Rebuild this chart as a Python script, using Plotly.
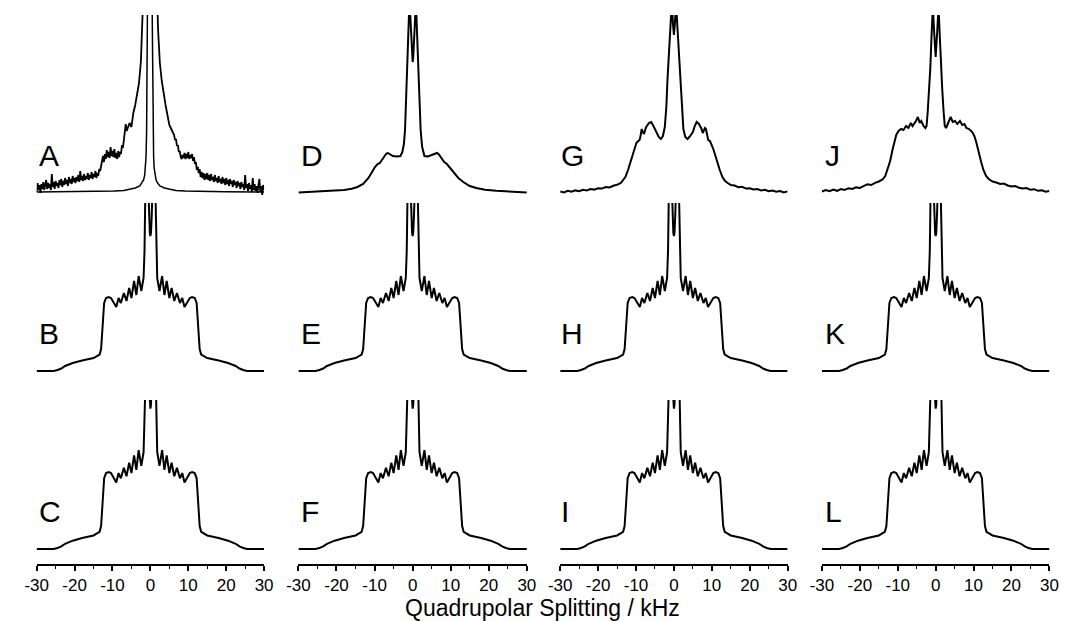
import plotly.graph_objects as go

# ---------------- data (intensities in arbitrary units, baseline = 0) ----------------
panel_labels = [["A", "D", "G", "J"], ["B", "E", "H", "K"], ["C", "F", "I", "L"]]
tick_vals = [-30, -20, -10, 0, 10, 20, 30]
tick_text = ["-30", "-20", "-10", "0", "10", "20", "30"]
minor_tick_vals = [-25, -15, -5, 5, 15, 25]
x_title = "Quadrupolar Splitting / kHz"

# simulated spectrum (panels B, C, E, F, H, I, K, L)
sim_x = [-30, -27, -25.5, -24.5, -23.5, -22.5, -20.5, -18, -15, -13.4, -13.0, -12.6, -12.2, -11.7,
         -11.0, -10.4, -9.7, -9.0, -8.4, -7.8, -7.0, -6.3, -5.6, -5.0, -4.3, -3.7, -3.1, -2.4,
         -1.8, -1.55, -1.35, -1.1, -0.85, -0.6, -0.35, -0.15, 0,
         0.15, 0.35, 0.6, 0.85, 1.1, 1.35, 1.55, 1.8, 2.4, 3.1, 3.7, 4.3, 5.0, 5.6, 6.3, 7.0,
         7.8, 8.4, 9.0, 9.7, 10.4, 11.0, 11.7, 12.2, 12.6, 13.0, 13.4, 15, 18, 20.5, 22.5, 23.5,
         24.5, 25.5, 27, 30]
sim_y = [0, 0, 0, 1, 2.5, 5, 8, 10.5, 13, 16.5, 22, 45, 68, 73,
         74, 73, 68, 64, 73, 68, 78, 70, 83, 73, 90, 76, 95, 80,
         93, 120, 175, 215, 220, 190, 155, 138, 135,
         138, 155, 190, 220, 215, 175, 120, 93, 80, 95, 76, 90, 73, 83, 70, 78,
         68, 73, 64, 68, 73, 74, 73, 68, 45, 22, 16.5, 13, 10.5, 8, 5, 2.5,
         1, 0, 0, 0]

# panel A: experimental (noisy) spectrum
a_exp_x = [
    -30.0, -29.75, -29.5, -29.25, -29.0, -28.75, -28.5, -28.25, -28.0, -27.75,
    -27.5, -27.25, -27.0, -26.75, -26.5, -26.25, -26.0, -25.75, -25.5, -25.25,
    -25.0, -24.75, -24.5, -24.25, -24.0, -23.75, -23.5, -23.25, -23.0, -22.75,
    -22.5, -22.25, -22.0, -21.75, -21.5, -21.25, -21.0, -20.75, -20.5, -20.25,
    -20.0, -19.75, -19.5, -19.25, -19.0, -18.75, -18.5, -18.25, -18.0, -17.75,
    -17.5, -17.25, -17.0, -16.75, -16.5, -16.25, -16.0, -15.75, -15.5, -15.25,
    -15.0, -14.75, -14.5, -14.25, -14.0, -13.75, -13.5, -13.25,
    -13.0, -12.75, -12.5, -12.25, -12.0, -11.75, -11.5, -11.25, -11.0, -10.75,
    -10.5, -10.25, -10.0, -9.75, -9.5, -9.25, -9.0, -8.75, -8.5, -8.25,
    -8.0, -7.75, -7.5, -7.25, -7.0, -6.75, -6.5, -6.25, -6.0,
    -5.5, -5.0, -4.5, -4.0, -3.5, -3.0, -2.5,
    -2.2, -2.0, -1.8, -1.5, -1.0, 0.0, 1.0, 1.5, 1.8, 2.0, 2.2,
    2.5, 3.0, 3.5, 4.0, 4.5, 5.0, 5.5, 6.0,
    6.25, 6.5, 6.75, 7.0, 7.25, 7.5, 7.75, 8.0,
    8.25, 8.5, 8.75, 9.0, 9.25, 9.5, 9.75, 10.0,
    10.25, 10.5, 10.75, 11.0, 11.25, 11.5, 11.75, 12.0,
    12.25, 12.5, 12.75, 13.0,
    13.25, 13.5, 13.75, 14.0, 14.25, 14.5, 14.75, 15.0,
    15.25, 15.5, 15.75, 16.0, 16.25, 16.5, 16.75, 17.0,
    17.25, 17.5, 17.75, 18.0, 18.25, 18.5, 18.75, 19.0,
    19.25, 19.5, 19.75, 20.0, 20.25, 20.5, 20.75, 21.0,
    21.25, 21.5, 21.75, 22.0, 22.25, 22.5, 22.75, 23.0,
    23.25, 23.5, 23.75, 24.0, 24.25, 24.5, 24.75, 25.0,
    25.25, 25.5, 25.75, 26.0, 26.25, 26.5, 26.75, 27.0,
    27.25, 27.5, 27.75, 28.0, 28.25, 28.5, 28.75, 29.0,
    29.25, 29.5, 29.75, 30.0]
a_exp_y = [
    0, 9, 2, 7, -1, 8, 3, 10, 2, 6,
    12, 3, 9, 4, 8, 2, 18, 5, 10, 3,
    11, 6, 9, 4, 12, 7, 13, 5, 11, 7,
    14, 8, 12, 6, 15, 9, 13, 8, 16, 10,
    14, 9, 15, 11, 17, 10, 21, 12, 16, 11,
    18, 12, 16, 13, 19, 12, 17, 14, 20, 13,
    18, 15, 21, 14, 19, 16, 23, 21,
    25, 31, 36, 30, 38, 33, 42, 35, 40, 34,
    45, 36, 41, 35, 43, 34, 39, 33, 41, 35,
    40, 38, 47, 44, 52, 60, 68, 61, 64,
    69, 65, 79, 87, 99, 109, 131,
    152, 168, 185, 230, 320, 400, 320, 230, 185, 165, 150,
    129, 111, 97, 87, 77, 67, 63, 59,
    57, 52, 53, 46, 47, 40, 41, 35,
    33, 37, 34, 39, 33, 38, 34, 40,
    33, 37, 34, 38, 31, 35, 28, 30,
    22, 25, 19, 23,
    15, 20, 14, 19, 12, 18, 13, 19,
    12, 17, 11, 18, 12, 15, 10, 17,
    11, 14, 9, 16, 10, 13, 8, 15,
    9, 13, 7, 14, 8, 12, 6, 13,
    8, 11, 5, 12, 7, 10, 4, 11,
    6, 9, 3, 10, 5, 8, 2, 17,
    4, 8, 1, 9, 3, 7, 0, 14,
    2, 8, 1, 6, -1, 7, 13, 0,
    6, -3, 7, 2]

# panel A: narrow reference line
a_lor_x = [-30, -20, -15, -9.5, -7, -5.2, -4, -2.8, -2.2, -1.8, -1.5, -1.3, -1.15, -1.0, -0.9,
           -0.8, -0.6, -0.15, 0.3, 0.5, 0.6, 0.7, 0.85, 1.0, 1.2, 1.5, 1.9, 2.5, 3.7, 4.9, 6.7,
           9.2, 14.7, 19.7, 30]
a_lor_y = [0, 0.2, 0.4, 1, 1.6, 3, 4, 6, 9, 12, 17, 24, 35, 60, 100,
           170, 300, 600, 300, 170, 100, 60, 35, 24, 17, 12, 9, 6, 4, 3, 1.6,
           1, 0.4, 0.2, 0]

# panel D
d_x = [-30, -27, -24, -21, -18, -16, -14.5, -13, -11.6, -10.5, -9.9, -9.2, -8.6, -7.9, -7.3,
       -6.9, -6.5, -6.0, -5.2, -4.2, -3.2, -2.7, -2.3, -2.0, -1.75, -1.5, -1.3, -1.1, -0.85,
       -0.6, -0.35, -0.15, 0, 0.15, 0.35, 0.6, 0.85, 1.1, 1.3, 1.5, 1.8, 2.1, 2.5, 3.1, 4.0,
       5.1, 5.7, 6.4, 6.9, 7.7, 8.3, 9.0, 9.8, 10.7, 12.0, 13.3, 15, 16.7, 19, 22, 25, 28, 30]
d_y = [-0.5, 0, 0.5, 1, 2, 3.2, 5, 8, 14, 21, 25, 28, 29, 33, 37,
       38.5, 39, 38, 36, 35.5, 36, 40, 48, 62, 90, 115, 142, 165, 190,
       175, 150, 134, 130, 134, 150, 175, 190, 165, 142, 115, 88, 62, 45, 36, 35.5,
       37, 38, 39, 37.5, 33, 30, 28, 24, 20, 14, 10, 6, 4, 2.2, 1.2, 0.6, 0, -0.5]

# panel G
g_x = [-30, -29, -28, -27, -26, -25, -24, -23, -22, -21, -20, -19, -18, -17, -16, -15, -14,
       -13.4, -12.8, -12.1, -11.4, -10.8, -10.3, -9.9, -9.4, -9.05, -8.75, -8.5, -8.2, -7.9,
       -7.6, -7.3, -6.6, -6.0, -5.4, -4.7, -4.0, -3.45, -2.9, -2.4, -2.0, -1.7, -1.3, -1.0,
       -0.55, -0.25, 0,
       0.25, 0.55, 1.0, 1.3, 1.7, 2.0, 2.5, 3.0, 3.6, 4.3, 5.0, 5.5, 6.0, 6.6, 7.3, 7.6, 7.9,
       8.2, 8.45, 8.75, 9.05, 9.5, 9.9, 10.3, 10.8, 11.4, 12.1, 12.8, 13.4,
       14, 15, 16, 17, 18, 19, 20, 21, 22, 23, 24, 25, 26, 27, 28, 29, 30]
g_y = [0.5, -0.5, 1.2, 0.2, 1.6, 0.8, 2.3, 1.6, 3.0, 2.4, 3.8, 3.4, 5.0, 4.6, 6.2, 7.2, 9.0,
       11.5, 15, 22, 31, 38, 45, 49, 51, 52, 57, 63, 60, 58,
       62, 65, 69, 70, 66, 60, 55, 53, 56, 65, 85, 112, 140, 160,
       190, 168, 157,
       168, 190, 160, 140, 112, 85, 63, 55, 53, 56, 60, 66, 70, 68, 63, 59, 61,
       64, 63, 57, 52, 51, 48, 44, 38, 30, 22, 15, 11.5,
       9.5, 7.0, 6.5, 4.8, 5.2, 3.4, 3.8, 2.5, 3.0, 1.6, 2.2, 0.8, 1.5, 0.2, 1.0, -0.4, 0.6]

# panel J
j_x = [-30, -29, -28, -27, -26, -25, -24, -23, -22, -21, -20, -19, -18, -17, -16, -15, -14,
       -13.3, -12.6, -12.0, -11.4, -10.8, -10.4, -9.8, -9.1, -8.5, -7.8, -7.2, -6.55, -6.1,
       -5.7, -5.2, -4.7, -4.2, -3.8, -3.2, -2.7, -2.4, -2.1, -1.7, -1.4, -1.1, -0.75, -0.4, 0,
       0.4, 0.75, 1.1, 1.4, 1.7, 2.1, 2.4, 2.75, 3.3, 3.95, 4.5, 5.1, 5.7, 6.4, 7.0, 7.6, 8.1,
       8.8, 9.65, 10.2, 10.7, 11.3, 12.0, 12.6, 13.3,
       14, 15, 16, 17, 18, 19, 20, 21, 22, 23, 24, 25, 26, 27, 28, 29, 30]
j_y = [0.5, 2.0, 0.8, 2.5, 1.2, 3.0, 2.0, 3.8, 3.0, 4.6, 4.0, 6.0, 7.8, 7.0, 9.2, 10.5, 12.5,
       16, 24, 31, 42, 52, 57, 61, 63, 62, 66, 64, 69, 66,
       68, 71, 75, 69, 71, 66, 64, 66, 80, 105, 125, 155, 185, 160, 135,
       160, 185, 155, 125, 105, 80, 66, 64, 70, 75, 70, 71, 68, 71, 67, 68, 64,
       63, 60, 56, 50, 40, 30, 22, 16,
       13, 10.5, 9.5, 8.0, 8.5, 6.5, 5.5, 6.0, 4.2, 3.4, 4.0, 2.2, 2.8, 1.2, 1.8, 0.3, 1.0]

# ---------------- layout geometry (page pixels; page has an 8 px body margin) ----------------
W, H = 1070, 621
OFF = 8
col_px = [(25, 257), (292, 525), (559, 791), (826, 1058)]
# (clip top, baseline, panel bottom, vertical scale)
row_px = [(15, 192, 200, 1.0), (203, 371, 380, 1.0), (400, 549, 564, 1.04)]
label_x_px = [25, 293, 558, 827]
label_y_px = [156, 333, 511]
title_px = (541, 608)
FONT = "Arial, 'Liberation Sans', Helvetica, sans-serif"


def px_x(p):
    return (p - OFF) / W


def px_y(p):
    return 1 - (p - OFF) / H


panel_traces = {
    (0, 0): [(a_exp_x, a_exp_y, 1.8), (a_lor_x, a_lor_y, 1.5)],
    (0, 1): [(d_x, d_y, 2.0)],
    (0, 2): [(g_x, g_y, 2.0)],
    (0, 3): [(j_x, j_y, 2.0)],
}

fig = go.Figure()
layout_axes = {}
annotations = []
for r in range(3):
    top, base, bot, s = row_px[r]
    for c in range(4):
        i = r * 4 + c + 1
        xa = "x" if i == 1 else f"x{i}"
        ya = "y" if i == 1 else f"y{i}"
        for xs, ys, w in panel_traces.get((r, c), [(sim_x, sim_y, 2.0)]):
            fig.add_trace(go.Scatter(x=xs, y=ys, mode="lines",
                                     line=dict(color="black", width=w),
                                     xaxis=xa, yaxis=ya, showlegend=False,
                                     hoverinfo="skip"))
        x0, x1 = col_px[c]
        xkey = "xaxis" if i == 1 else f"xaxis{i}"
        ykey = "yaxis" if i == 1 else f"yaxis{i}"
        xdef = dict(domain=[px_x(x0), px_x(x1)], range=[-30, 30], anchor=ya,
                    showgrid=False, zeroline=False, fixedrange=True)
        if r == 2:
            xdef.update(visible=True, showline=True, linecolor="black", linewidth=1.5,
                        ticks="outside", ticklen=5, tickwidth=1.5, tickcolor="black",
                        tickmode="array", tickvals=tick_vals, ticktext=tick_text,
                        tickfont=dict(family=FONT, size=17, color="black"),
                        minor=dict(tickmode="array", tickvals=minor_tick_vals,
                                   ticks="outside", ticklen=3, tickwidth=1.2,
                                   tickcolor="black", showgrid=False))
        else:
            xdef.update(visible=False)
        layout_axes[xkey] = xdef
        layout_axes[ykey] = dict(domain=[px_y(bot), px_y(top)],
                                 range=[(base - bot) / s, (base - top) / s],
                                 anchor=xa, visible=False, showgrid=False,
                                 zeroline=False, fixedrange=True)
        annotations.append(dict(text=panel_labels[r][c], xref="paper", yref="paper",
                                x=px_x(label_x_px[c]), y=px_y(label_y_px[r]),
                                xanchor="left", yanchor="middle", showarrow=False,
                                font=dict(family=FONT, size=30, color="black")))

annotations.append(dict(text=x_title, xref="paper", yref="paper",
                        x=px_x(title_px[0]), y=px_y(title_px[1]),
                        xanchor="center", yanchor="middle", borderpad=0,
                        showarrow=False, font=dict(family=FONT, size=23, color="black")))

fig.update_layout(width=W, height=H, autosize=False,
                  margin=dict(l=0, r=0, t=0, b=0, pad=0),
                  paper_bgcolor="white", plot_bgcolor="white",
                  annotations=annotations, **layout_axes)

fig.write_html("out.html")
